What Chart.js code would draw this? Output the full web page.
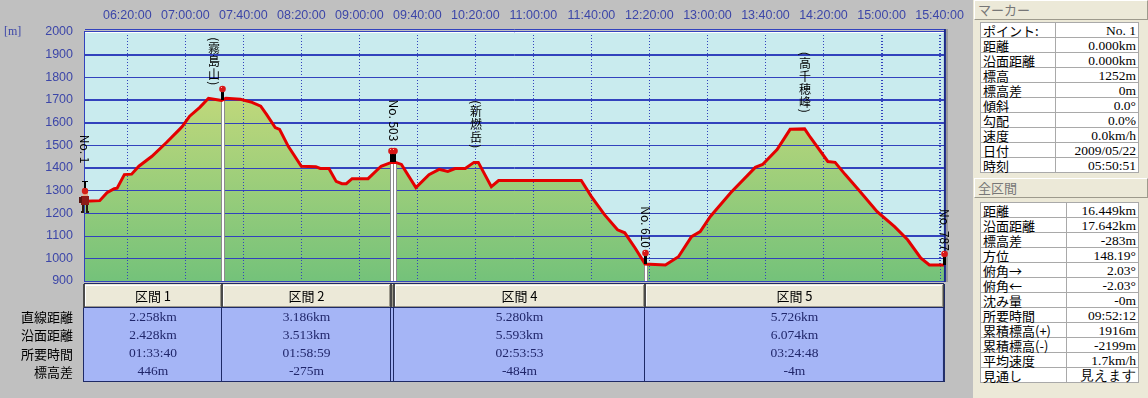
<!DOCTYPE html>
<html lang="ja">
<head>
<meta charset="UTF-8">
<title>標高グラフ</title>
<style>
  body { margin: 0; width: 1148px; height: 398px; overflow: hidden; position: relative; background: #c0c0c0; font-family: "Noto Sans CJK JP", sans-serif; }
  #wrap { position: absolute; left: 0; top: 0; width: 973px; height: 398px; }
  #panel { position: absolute; left: 973px; top: 0; width: 175px; height: 398px; background: #ece9d8; }
  .bar { position: absolute; left: 1px; right: 0; height: 18px; background: #ece9d8; border-top: 1px solid #fff; border-left: 1px solid #fff; border-bottom: 1px solid #9d9a8c; border-right: 1px solid #9d9a8c; color: #777; font-size: 13px; line-height: 18px; padding-left: 3px; box-sizing: content-box; }
  table { position: absolute; left: 7px; width: 159px; border-collapse: collapse; background: #fff; font-size: 13px; }
  tr { height: 15px; }
  td { border: 1px solid #a9a9a9; padding: 0 2px; line-height: 13px; white-space: nowrap; color: #000; }
  td.v { text-align: right; font-family: "Liberation Serif", serif; font-size: 13.5px; }
</style>
</head>
<body>
<div id="wrap"><canvas id="profile" width="973" height="398"></canvas></div>
<div id="panel">
  <div class="bar" style="top:0">マーカー</div>
  <table id="markerTable" style="top:22px"></table>
  <div class="bar" style="top:178px">全区間</div>
  <table id="totalTable" style="top:202px"></table>
</div>

<script src="https://cdn.jsdelivr.net/npm/chart.js"></script>
<script>
  // elevation profile (clock time, metres)
  const times = [
    "05:50:51", "06:01", "06:06", "06:11", "06:13", "06:18", "06:23", "06:28", "06:37", "06:47",
    "06:56", "06:58", "07:03", "07:10", "07:16", "07:23", "07:25", "07:28", "07:38", "07:46",
    "07:52", "07:56", "08:02", "08:05", "08:11", "08:20", "08:30", "08:33", "08:39", "08:44",
    "08:48", "08:51", "08:55", "09:06", "09:15", "09:22", "09:25", "09:29", "09:39", "09:48",
    "09:55", "10:01", "10:06", "10:13", "10:19", "10:22", "10:31", "10:36", "11:33", "11:40",
    "11:49", "11:58", "12:03", "12:10", "12:17", "12:31", "12:40", "12:49", "12:55", "13:02",
    "13:16", "13:33", "13:38", "13:48", "13:57", "14:07", "14:11", "14:23", "14:28", "14:35",
    "14:44", "14:57", "15:09", "15:18", "15:27", "15:33", "15:43:03"
  ];
  const elevations = [
    1252, 1255, 1290, 1308, 1310, 1370, 1372, 1407, 1451, 1512,
    1570, 1583, 1628, 1667, 1707, 1700, 1698, 1707, 1703, 1689,
    1672, 1636, 1578, 1570, 1495, 1407, 1405, 1397, 1397, 1340,
    1330, 1330, 1352, 1352, 1407, 1424, 1424, 1415, 1313, 1370,
    1393, 1384, 1397, 1397, 1424, 1424, 1317, 1344, 1344, 1273,
    1193, 1126, 1113, 1047, 975, 971, 1007, 1096, 1118, 1185,
    1290, 1402, 1415, 1481, 1570, 1572, 1534, 1428, 1424, 1370,
    1304, 1206, 1140, 1082, 1002, 971, 971
  ];
  const timeTicks = ["06:20", "07:00", "07:40", "08:20", "09:00", "09:40", "10:20", "11:00",
                     "11:40", "12:20", "13:00", "13:40", "14:20", "15:00", "15:40"];

  const markerNames = ["No. 1", "（霧島山）", "No. 503", "（新燃岳）", "No. 610", "（高千穂峰）", "No. 787"];
  const markerTimes = ["05:50:51", "07:25", "09:24", "10:19", "12:17", "14:07", "15:43:03"];
  const pinTimes = ["07:25", "09:22", "09:24", "12:17", "15:43:03"];

  const sectionTimes = ["05:50:51", "07:25", "09:22", "09:24", "12:17", "15:43:03"];
  const sectionNames = ["区間 1", "区間 2", "区間 3", "区間 4", "区間 5"];
  const rowNames = ["直線距離", "沿面距離", "所要時間", "標高差"];
  const straightDist = ["2.258km", "3.186km", "", "5.280km", "5.726km"];
  const surfaceDist = ["2.428km", "3.513km", "", "5.593km", "6.074km"];
  const durations = ["01:33:40", "01:58:59", "", "02:53:53", "03:24:48"];
  const elevDiffs = ["446m", "-275m", "", "-484m", "-4m"];

  const markerLabels = ["ポイント:", "距離", "沿面距離", "標高", "標高差", "傾斜", "勾配", "速度", "日付", "時刻"];
  const markerValues = ["No. 1", "0.000km", "0.000km", "1252m", "0m", "0.0°", "0.0%", "0.0km/h", "2009/05/22", "05:50:51"];
  const totalLabels = ["距離", "沿面距離", "標高差", "方位", "俯角→", "俯角←", "沈み量", "所要時間", "累積標高(+)", "累積標高(-)", "平均速度", "見通し"];
  const totalValues = ["16.449km", "17.642km", "-283m", "148.19°", "2.03°", "-2.03°", "-0m", "09:52:12", "1916m", "-2199m", "1.7km/h", "見えます"];

  // label placement (pixels above the track, sideways nudge)
  const labelLift = [37, 14, 20, 13, 15, 15, 13];
  const labelDx = [0, -8, 0, 2, 1, 0, 1];

  const BLUE = "#3242bd";
  const TICK_TEXT = "#3c46a8";

  function toMin(s) {
    const p = s.split(":").map(Number);
    return p[0] * 60 + p[1] + (p[2] || 0) / 60;
  }
  function fmtTime(m) {
    const h = Math.floor(m / 60), mm = Math.round(m % 60);
    return String(h).padStart(2, "0") + ":" + String(mm).padStart(2, "0") + ":00";
  }
  const points = times.map((t, i) => ({ x: toMin(t), y: elevations[i] }));
  function elevAt(m) {
    for (let i = 1; i < points.length; i++) {
      if (points[i].x >= m) {
        const a = points[i - 1], b = points[i];
        return a.y + (b.y - a.y) * (m - a.x) / (b.x - a.x);
      }
    }
    return points[points.length - 1].y;
  }

  // vertical label: kanji upright, latin runs turned 90deg
  function drawVertical(ctx, text, cx, bottom, size) {
    const t = text.replace("（", "(").replace("）", ")");
    ctx.font = size + 'px "Noto Sans CJK JP"';
    const runs = [];
    for (const ch of t) {
      const up = ch.charCodeAt(0) > 0x2e80;
      const last = runs[runs.length - 1];
      if (!up && last && !last.up) last.s += ch;
      else runs.push({ s: ch, up: up });
    }
    runs.forEach(r => r.h = r.up ? size + 1 : ctx.measureText(r.s).width + 1);
    let y = bottom - runs.reduce((s, r) => s + r.h, 0);
    ctx.fillStyle = "#000";
    ctx.textBaseline = "middle";
    runs.forEach(r => {
      if (r.up) {
        ctx.textAlign = "center";
        ctx.fillText(r.s, cx, y + r.h / 2);
      } else {
        ctx.save();
        ctx.translate(cx, y);
        ctx.rotate(Math.PI / 2);
        ctx.textAlign = "left";
        ctx.fillText(r.s, 0, 0);
        ctx.restore();
      }
      y += r.h;
    });
  }

  function drawHiker(ctx, x, y) {
    ctx.fillStyle = "#2a1a10";
    ctx.fillRect(x - 3, y + 3, 2, 8);
    ctx.fillRect(x + 1, y + 3, 2, 8);
    ctx.fillRect(x - 4, y + 10, 3, 2);
    ctx.fillRect(x + 1, y + 10, 3, 2);
    ctx.fillStyle = "#8e1c18";
    ctx.fillRect(x - 4, y - 5, 8, 9);
    ctx.fillStyle = "#5a1410";
    ctx.fillRect(x - 6, y - 4, 3, 6);
    ctx.fillStyle = "#e9b28c";
    ctx.fillRect(x - 2, y - 9, 5, 4);
    ctx.fillStyle = "#d42018";
    ctx.beginPath();
    ctx.arc(x, y - 10, 3.2, 0, Math.PI * 2);
    ctx.fill();
    ctx.fillStyle = "#000";
    ctx.fillRect(x - 1, y - 20, 2, 7);
    ctx.fillRect(x - 3, y - 20, 6, 1);
  }

  const profilePlugin = {
    id: "profile",
    beforeDraw(chart) {
      const { ctx, chartArea: a } = chart;
      ctx.save();
      ctx.fillStyle = "#c9ebee";
      ctx.fillRect(a.left, a.top, a.right - a.left, a.bottom - a.top);
      ctx.restore();
    },
    beforeDatasetDraw(chart, args) {
      if (args.index !== 0) return;
      const { ctx, chartArea: a, scales: { x, y } } = chart;
      ctx.save();
      ctx.beginPath();
      ctx.rect(a.left, a.top, a.right - a.left, a.bottom - a.top);
      ctx.clip();
      ctx.strokeStyle = BLUE;
      ctx.lineWidth = 1;
      y.ticks.forEach(t => {
        const py = Math.round(y.getPixelForValue(t.value)) + 0.5;
        ctx.beginPath(); ctx.moveTo(a.left, py); ctx.lineTo(a.right, py); ctx.stroke();
      });
      ctx.setLineDash([1, 2]);
      x.ticks.forEach(t => {
        const px = Math.round(x.getPixelForValue(t.value)) + 0.5;
        ctx.beginPath(); ctx.moveTo(px, a.top); ctx.lineTo(px, a.bottom); ctx.stroke();
      });
      ctx.setLineDash([]);
      sectionTimes.slice(1, -1).forEach(t => {
        const m = toMin(t);
        const px = Math.round(x.getPixelForValue(m));
        const py = y.getPixelForValue(elevAt(m));
        ctx.fillStyle = "#8c8c8c";
        ctx.fillRect(px - 1, py, 4, a.bottom - py);
        ctx.fillStyle = "#fff";
        ctx.fillRect(px, py, 2, a.bottom - py);
      });
      ctx.restore();
    },
    afterDatasetsDraw(chart) {
      const { ctx, chartArea: a, scales: { x, y } } = chart;
      ctx.save();
      // frame
      ctx.strokeStyle = BLUE;
      ctx.lineWidth = 1;
      ctx.strokeRect(a.left - 0.5, a.top - 0.5, a.right - a.left + 1, a.bottom - a.top + 1);
      ctx.strokeStyle = "#fff";
      ctx.beginPath(); ctx.moveTo(a.left, a.top + 0.5); ctx.lineTo(a.right, a.top + 0.5); ctx.stroke();
      ctx.strokeStyle = BLUE;
      ctx.beginPath(); ctx.moveTo(a.left, a.top - 2.5); ctx.lineTo(a.right, a.top - 2.5); ctx.stroke();
      ctx.fillStyle = "#1c2a8a";
      ctx.fillRect(a.right, a.top - 3, 2, a.bottom - a.top + 4);
      ctx.fillStyle = "#9a9a9a";
      ctx.fillRect(a.right + 2, a.top - 3, 2, a.bottom - a.top + 4);

      // pins
      pinTimes.forEach(t => {
        const m = toMin(t);
        const px = Math.round(x.getPixelForValue(m));
        const py = Math.round(y.getPixelForValue(elevAt(m)));
        ctx.fillStyle = "#000";
        ctx.fillRect(px - 1, py - 10, 3, 10);
        ctx.fillStyle = "#d81818";
        ctx.beginPath(); ctx.arc(px + 0.5, py - 11, 3.3, 0, Math.PI * 2); ctx.fill();
        ctx.fillStyle = "#ffb0b0";
        ctx.fillRect(px - 1, py - 13, 1, 1);
      });

      // hiker at start
      const m0 = toMin(times[0]);
      drawHiker(ctx, Math.round(x.getPixelForValue(m0)), Math.round(y.getPixelForValue(elevations[0])));

      // labels
      markerNames.forEach((name, i) => {
        const m = toMin(markerTimes[i]);
        const px = Math.round(x.getPixelForValue(m)) + labelDx[i];
        const py = y.getPixelForValue(elevAt(m));
        drawVertical(ctx, name, px, py - labelLift[i], 12);
      });
      ctx.restore();
    },
    afterDraw(chart) {
      const { ctx, chartArea: a, scales: { x, y } } = chart;
      ctx.save();
      // unit
      ctx.fillStyle = TICK_TEXT;
      ctx.font = '12px "Liberation Serif"';
      ctx.textAlign = "left";
      ctx.textBaseline = "middle";
      ctx.fillText("[m]", 4, y.getPixelForValue(2000));

      // section table
      const top = 284, head = 308, bot = 381;
      const edges = sectionTimes.map(t => Math.round(x.getPixelForValue(toMin(t))));
      edges[0] = a.left - 1;
      edges[edges.length - 1] = a.right;
      const L = edges[0], R = edges[edges.length - 1];
      ctx.fillStyle = "#ece9d8";
      ctx.fillRect(L, top, R - L, head - top);
      ctx.fillStyle = "#a5b5f6";
      ctx.fillRect(L, head, R - L, bot - head);
      for (let i = 0; i < sectionNames.length; i++) {
        const l = edges[i], r = edges[i + 1];
        ctx.fillStyle = "#fff";
        ctx.fillRect(l + 1, top + 1, r - l - 2, 1);
        ctx.fillRect(l + 1, top + 1, 1, head - top - 2);
        ctx.fillStyle = "#9d9a8c";
        ctx.fillRect(l + 1, head - 2, r - l - 2, 1);
        ctx.fillRect(r - 2, top + 1, 1, head - top - 2);
      }
      ctx.fillStyle = "#4a4a4a";
      edges.forEach(e => ctx.fillRect(e - 1, top, 2, head - top));
      ctx.fillStyle = "#1e2a66";
      ctx.fillRect(L, top - 1, R - L, 1);
      ctx.fillRect(L, head - 1, R - L, 1);
      ctx.fillRect(L, bot, R - L + 1, 1);
      edges.forEach(e => ctx.fillRect(e - 1, head, 1, bot - head + 1));
      ctx.fillRect(R, top, 1, bot - top + 1);

      const rowH = (bot - head) / rowNames.length;
      const cols = [straightDist, surfaceDist, durations, elevDiffs];
      ctx.textBaseline = "middle";
      for (let i = 0; i < sectionNames.length; i++) {
        const l = edges[i], r = edges[i + 1];
        if (r - l < 30) continue;
        const cx = (l + r) / 2;
        ctx.textAlign = "center";
        ctx.fillStyle = "#000";
        ctx.font = '13px "Noto Sans CJK JP"';
        ctx.fillText(sectionNames[i], cx, (top + head) / 2);
        ctx.fillStyle = "#20266a";
        ctx.font = '13.5px "Liberation Serif"';
        cols.forEach((c, k) => ctx.fillText(c[i], cx, head + rowH * (k + 0.5)));
      }
      ctx.fillStyle = "#000";
      ctx.font = '13px "Noto Sans CJK JP"';
      ctx.textAlign = "right";
      rowNames.forEach((n, k) => ctx.fillText(n, 73, head + rowH * (k + 0.5)));
      ctx.restore();
    }
  };

  function buildPanel(id, labels, values) {
    const tb = document.getElementById(id);
    tb.innerHTML = labels.map((l, i) =>
      "<tr><td>" + l + "</td><td class=\"v\">" + values[i] + "</td></tr>").join("");
  }

  document.addEventListener("DOMContentLoaded", function () {
    buildPanel("markerTable", markerLabels, markerValues);
    buildPanel("totalTable", totalLabels, totalValues);

    const ctx = document.getElementById("profile").getContext("2d");
    new Chart(ctx, {
      type: "line",
      data: {
        datasets: [
          {
            label: "標高",
            data: points,
            borderColor: "#e40000",
            borderWidth: 3,
            pointRadius: 0,
            tension: 0,
            fill: false,
          },
          {
            label: "標高 (面)",
            data: points,
            borderWidth: 0,
            pointRadius: 0,
            tension: 0,
            fill: "start",
            backgroundColor: function (c) {
              const area = c.chart.chartArea;
              if (!area) return "#a0d070";
              const ys = c.chart.scales.y;
              const g = c.chart.ctx.createLinearGradient(0, ys.getPixelForValue(1750), 0, area.bottom);
              g.addColorStop(0, "#c3d97b");
              g.addColorStop(1, "#74c27a");
              return g;
            },
          },
        ],
      },
      options: {
        responsive: false,
        animation: false,
        layout: { padding: { left: 0, top: 0, right: 28, bottom: 117 } },
        plugins: { legend: { display: false }, tooltip: { enabled: false } },
        scales: {
          x: {
            type: "linear",
            position: "top",
            min: toMin(times[0]),
            max: toMin(times[times.length - 1]),
            afterFit: s => { s.height = 32; },
            afterBuildTicks: s => { s.ticks = timeTicks.map(t => ({ value: toMin(t) })); },
            grid: { color: BLUE, drawTicks: false },
            border: { display: false, dash: [1, 2] },
            ticks: {
              color: TICK_TEXT,
              font: { family: "Liberation Sans", size: 12.5 },
              padding: 9,
              maxRotation: 0,
              autoSkip: false,
              callback: v => fmtTime(v),
            },
          },
          y: {
            min: 900,
            max: 2000,
            afterFit: s => { s.width = 85; },
            grid: { color: BLUE, drawTicks: false },
            border: { display: false },
            ticks: {
              stepSize: 100,
              color: TICK_TEXT,
              font: { family: "Liberation Sans", size: 12.5 },
              padding: 12,
              callback: v => String(v),
            },
          },
        },
      },
      plugins: [profilePlugin],
    });
  });
</script>
</body>
</html>
